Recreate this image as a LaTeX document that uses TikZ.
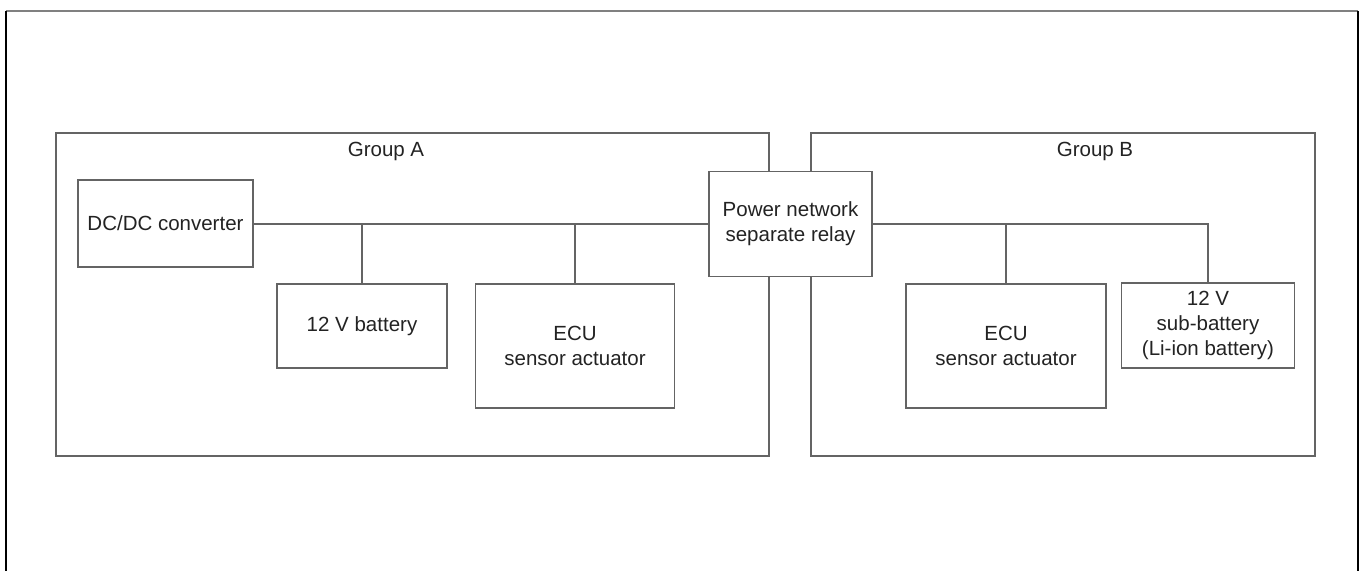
\documentclass[tikz,border=0pt]{standalone}
\usepackage{fontspec}
\setmainfont{Liberation Sans}
\definecolor{linegray}{RGB}{100,100,100}
\definecolor{textgray}{RGB}{35,35,35}
\begin{document}
\begin{tikzpicture}[x=1bp,y=-1bp,
  box/.style={draw=linegray, line width=1.8bp, fill=white, rectangle, inner sep=0pt, align=center,
    text=textgray, font=\fontsize{20.5bp}{25bp}\selectfont},
  grp/.style={draw=linegray, line width=1.8bp},
  wire/.style={draw=linegray, line width=1.8bp},
  lbl/.style={text=textgray, font=\fontsize{20.5bp}{25bp}\selectfont, inner sep=0pt}]
\useasboundingbox (0,0) rectangle (1365,571);
% outer frame (open at the bottom)
\draw[draw=gray, line width=1.5bp] (6,11) -- (1358,11);
\draw[black, line width=2.8bp] (6,11) -- (6,571);
\draw[black, line width=2.5bp] (1358,11) -- (1358,571);
% group boxes
\draw[grp] (56,133) rectangle (769,456);
\draw[grp] (811,133) rectangle (1315,456);
\node[lbl] (ga) at (386,151) {Group A};
\node[lbl] (gb) at (1095,151) {Group B};
% component boxes
\node[box, minimum width=175bp, minimum height=87bp] (dcdc) at (165.5,223.5) {DC/DC converter};
\node[box, minimum width=170bp, minimum height=84bp] (bat) at (362,326) {12 V battery};
\node[box, minimum width=199bp, minimum height=124bp] (ecua) at (575,346) {ECU\\sensor actuator};
\node[box, minimum width=163bp, minimum height=105bp] (relay) at (790.5,224) {Power network\\separate relay};
\node[box, minimum width=200bp, minimum height=124bp] (ecub) at (1006,346) {ECU\\sensor actuator};
\node[box, minimum width=173bp, minimum height=85bp] (sub) at (1208,325.5) {12 V\\sub-battery\\(Li-ion battery)};
% bus coordinates
\coordinate (tb) at (bat.north |- relay.west);
\coordinate (tea) at (ecua.north |- relay.west);
\coordinate (teb) at (ecub.north |- relay.west);
\coordinate (ts) at (sub.north |- relay.west);
% connectors
\draw[wire] (dcdc.east |- relay.west) -- (relay.west);
\draw[wire] (tb) -- (bat.north);
\draw[wire] (tea) -- (ecua.north);
\draw[wire] (relay.east) -- (ts) -- (sub.north);
\draw[wire] (teb) -- (ecub.north);
\end{tikzpicture}
\end{document}
